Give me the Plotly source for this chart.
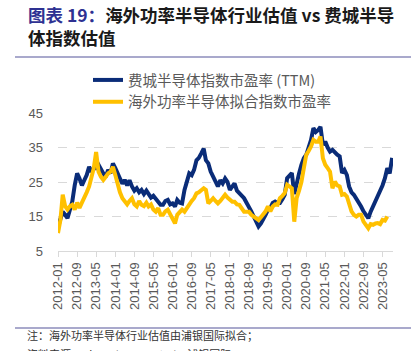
import pandas as pd
import plotly.graph_objects as go

# Monthly observations, 2012-01 .. 2023-09
dates = pd.date_range("2012-01-01", "2023-09-01", freq="MS")

sox_pe = [
    12, 14.5, 16.4, 15.5, 14.5, 17, 19.3, 24, 27.5, 26, 24, 25.5,          # 2012
    27, 29.4, 28, 29, 29, 30, 28.5, 27.5, 26.5, 28.5, 27.5, 30.4,          # 2013
    29, 27, 26, 24.5, 25.6, 24, 25.5, 23.7, 22.5, 23.2, 22, 22.7,          # 2014
    21.5, 22.5, 21.7, 20.5, 21, 20.3, 19.3, 18.4, 18.4, 19.5, 19.8, 18.5,  # 2015
    18.8, 17.9, 19.8, 19, 18.8, 22.7, 25, 27.5, 27, 28.5, 31.3, 32,        # 2016
    33.3, 34.7, 31.3, 30.4, 28, 26.6, 25, 23.7, 25.5, 24.6, 26, 25,        # 2017
    22.7, 23.5, 24.6, 22.5, 21.7, 21, 20.3, 19, 17.9, 16.5, 15, 13.5,      # 2018
    12.1, 13, 14, 15.5, 16.9, 17.5, 18.9, 19.3, 18.9, 18.9, 20, 21.3,      # 2019
    26.1, 27, 27.6, 21.5, 25, 27.5, 30, 31.9, 32.9, 35, 37.2, 40.6,        # 2020
    39.5, 40.1, 41, 35.8, 36.7, 35, 33.8, 34.3, 33.5, 32.9, 32.4, 27.6,    # 2021
    28.5, 27, 23.7, 22, 21.3, 20.3, 19, 17.9, 16.5, 15.5, 14.5, 16.4,      # 2022
    18, 19.3, 20.5, 22.2, 24, 26.1, 29, 27.5, 32,                          # 2023
]

power_pe = [
    10.2, 14, 21.3, 18, 17, 18, 18.4, 17, 19, 17.5, 19, 20.3,              # 2012
    22, 23.7, 26, 29, 33.7, 28, 26.5, 25.6, 26.5, 27.5, 28, 29.4,          # 2013
    27, 24, 22, 20.3, 19.3, 18.5, 19.5, 20.3, 18.5, 17.9, 19.5, 18.4,      # 2014
    18, 19, 17.9, 18.5, 17, 16.4, 17.4, 15.5, 15.5, 16.5, 17, 15.5,        # 2015
    14.5, 13, 15.5, 16.5, 17, 16.4, 17.5, 18.4, 19.5, 20.3, 21.7, 22,      # 2016
    22.7, 23.2, 22.7, 18.8, 19.5, 20.3, 19.5, 18.8, 19.5, 20.3, 21.3, 20.5,  # 2017
    19.8, 19.3, 19.3, 18.5, 18.4, 17.5, 16.4, 16.4, 16.4, 15.5, 15, 14.5,  # 2018
    14, 14.8, 15.5, 16.5, 17.9, 16.5, 17.9, 18.5, 18.4, 20.3, 21, 21.8,    # 2019
    24.2, 23.5, 23.2, 13.5, 20.3, 22.5, 25, 29, 32.9, 34, 35.3, 37.2,      # 2020
    36.7, 36.7, 38.2, 31.9, 30, 29, 28, 23.2, 25.1, 24, 23.7, 21.3,        # 2021
    21.5, 20.8, 18.4, 16.5, 15.5, 15, 15.5, 15.5, 13.5, 12.6, 11.6, 12.8,  # 2022
    12.6, 13, 13.1, 12.8, 14, 13.8, 15,                                    # 2023
]

tick_labels = ["2012-01", "2012-09", "2013-05", "2014-01", "2014-09", "2015-05",
               "2016-01", "2016-09", "2017-05", "2018-01", "2018-09", "2019-05",
               "2020-01", "2020-09", "2021-05", "2022-01", "2022-09", "2023-05"]
y_ticks = [5, 15, 25, 35, 45]

name_sox = "费城半导体指数市盈率 (TTM)"
name_pow = "海外功率半导体拟合指数市盈率"

BLUE = "#0A2C78"
YELLOW = "#FFC000"
GRAY = "#595959"
FONT = "Liberation Sans, Arial, Noto Sans CJK SC, sans-serif"
CJK = "Noto Sans CJK SC, sans-serif"

fig = go.Figure()
fig.add_trace(go.Scatter(x=dates, y=sox_pe, name=name_sox, mode="lines",
                         line=dict(color=BLUE, width=4)))
fig.add_trace(go.Scatter(x=dates[:len(power_pe)], y=power_pe, name=name_pow, mode="lines",
                         line=dict(color=YELLOW, width=4)))

# plot area in pixels: x 58..393, y 113..251
W, H = 419, 351
L, R, T, B = 58, 393, 113, 251
pw, ph = R - L, B - T

def px(x):
    return (x - L) / pw

def py(y):
    return (B - y) / ph

fig.update_layout(
    width=W, height=H,
    margin=dict(l=L, r=W - R, t=T, b=H - B, autoexpand=False),
    paper_bgcolor="white", plot_bgcolor="white",
    font=dict(family=FONT, color=GRAY, size=13),
    showlegend=True,
    legend=dict(x=px(88), y=py(64), xanchor="left", yanchor="top",
                font=dict(family=CJK, size=14.5, color=GRAY),
                bgcolor="rgba(0,0,0,0)", tracegroupgap=0, itemwidth=30),
    xaxis=dict(
        type="date",
        range=["2012-01-01", "2023-09-12"],
        tickvals=[pd.Timestamp(t + "-01") for t in tick_labels],
        ticktext=tick_labels,
        tickangle=-90,
        ticks="outside", ticklen=5, tickcolor="#D9D9D9",
        showline=True, linecolor="#D9D9D9", linewidth=1,
        showgrid=False, zeroline=False,
        tickfont=dict(size=13, color=GRAY),
    ),
    yaxis=dict(
        range=[5, 45],
        tickvals=y_ticks,
        showgrid=True, gridcolor="#D9D9D9", griddash="dash", gridwidth=1,
        zeroline=False, showline=False,
        ticks="", ticklabelstandoff=14,
        tickfont=dict(size=13, color=GRAY),
    ),
)

annotations = [
    dict(text="<b><span style='color:#2E3192'>图表 19：</span>海外功率半导体行业估值 vs 费城半导"
              "<br>体指数估值</b>",
         x=px(26), y=py(0), xanchor="left", yanchor="top", align="left",
         font=dict(family=CJK, size=17.5, color="#1a1a1a")),
    dict(text="注：海外功率半导体行业估值由浦银国际拟合；",
         x=px(25), y=py(335), xanchor="left", yanchor="middle",
         font=dict(family=CJK, size=11, color="#333333")),
    dict(text="资料来源：Bloomberg，Wind，浦银国际",
         x=px(25), y=py(344), xanchor="left", yanchor="top",
         font=dict(family=CJK, size=11, color="#333333")),
]
for a in annotations:
    a.update(xref="paper", yref="paper", showarrow=False)
fig.update_layout(annotations=annotations)

for yy in (57, 328):
    fig.add_shape(type="line", xref="paper", yref="paper",
                  x0=px(15), x1=px(411), y0=py(yy), y1=py(yy),
                  line=dict(color="#A9A9CC", width=2))

fig.write_html("out.html")
